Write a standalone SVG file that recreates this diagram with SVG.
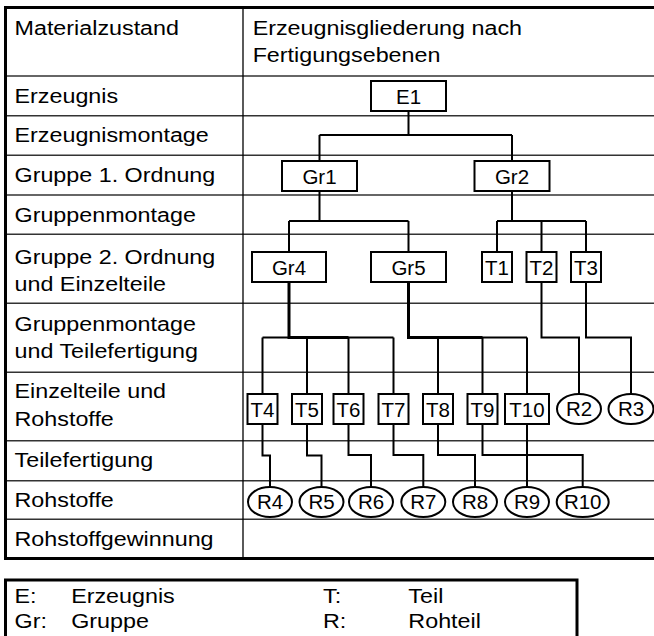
<svg xmlns="http://www.w3.org/2000/svg" width="654" height="636" viewBox="0 0 654 636">
<style>
.t{font-family:"Liberation Sans",Arial,sans-serif;font-size:21px;fill:#000}
.n{font-family:"Liberation Sans",Arial,sans-serif;font-size:20.5px;fill:#000;text-anchor:middle}
.box{fill:#fff;stroke:#000;stroke-width:2}
.row{stroke:#333;stroke-width:1.5;fill:none}
.c{fill:none;stroke:#000;stroke-width:2}
.ck{fill:none;stroke:#000;stroke-width:3}
</style>
<rect width="654" height="636" fill="#fff"/>
<g id="table">
<g class="row">
<line x1="5" y1="76" x2="654" y2="76"/>
<line x1="5" y1="115.7" x2="654" y2="115.7"/>
<line x1="5" y1="155.3" x2="654" y2="155.3"/>
<line x1="5" y1="195" x2="654" y2="195"/>
<line x1="5" y1="234.3" x2="654" y2="234.3"/>
<line x1="5" y1="303.3" x2="654" y2="303.3"/>
<line x1="5" y1="372.3" x2="654" y2="372.3"/>
<line x1="5" y1="440.7" x2="654" y2="440.7"/>
<line x1="5" y1="480.7" x2="654" y2="480.7"/>
<line x1="5" y1="519.3" x2="654" y2="519.3"/>
</g>
<line x1="243" y1="8" x2="243" y2="558" stroke="#000" stroke-width="1.3"/>
<path d="M654,7.5 H5.5 V558.5 H654" fill="none" stroke="#000" stroke-width="3"/>
<g transform="scale(1.11 1)">
<text class="t" x="13.1" y="35">Materialzustand</text>
<text class="t" x="227.6" y="35">Erzeugnisgliederung nach</text>
<text class="t" x="227.6" y="61.7">Fertigungsebenen</text>
<text class="t" x="13.1" y="103">Erzeugnis</text>
<text class="t" x="13.1" y="142.5">Erzeugnismontage</text>
<text class="t" x="13.1" y="182.3">Gruppe 1. Ordnung</text>
<text class="t" x="13.1" y="221.7">Gruppenmontage</text>
<text class="t" x="13.1" y="264">Gruppe 2. Ordnung</text>
<text class="t" x="13.1" y="291">und Einzelteile</text>
<text class="t" x="13.1" y="330.7">Gruppenmontage</text>
<text class="t" x="13.1" y="358.3">und Teilefertigung</text>
<text class="t" x="13.1" y="398.3">Einzelteile und</text>
<text class="t" x="13.1" y="426">Rohstoffe</text>
<text class="t" x="13.1" y="466.7">Teilefertigung</text>
<text class="t" x="13.1" y="507.3">Rohstoffe</text>
<text class="t" x="13.1" y="546">Rohstoffgewinnung</text>
</g>
</g>
<g id="connectors">
<path class="c" d="M408.5,111 V135 M319.5,135 H512 M319.5,135 V161 M512,135 V161"/>
<path class="c" d="M319.5,191 V221 M289,221 H408.5 M289,221 V252 M408.5,221 V252"/>
<path class="c" d="M512,191 V221 M497,221 H586 M497,221 V252 M541.5,221 V252 M586,221 V252"/>
<path class="ck" d="M289,282 V337.5 H348.5"/>
<path class="c" d="M262.5,337.5 H393.5 M262.5,337.5 V394 M307,337.5 V394 M348.5,337.5 V394 M393.5,337.5 V394"/>
<path class="ck" d="M408.5,282 V337.5 H482.5"/>
<path class="c" d="M408.5,337.5 H527 M438,337.5 V394 M482.5,337.5 V394 M527,337.5 V394"/>
<path class="c" d="M541.5,282 V337.5 H579 V394"/>
<path class="c" d="M586,282 V337.5 H631 V394"/>
<path class="c" d="M262.5,424 V455.5 H270 V487"/>
<path class="c" d="M307,424 V455.5 H321.5 V487"/>
<path class="c" d="M348.5,424 V455 H371 V487"/>
<path class="c" d="M393.5,424 V455 H423.3 V487"/>
<path class="c" d="M438,424 V455 H475 V487"/>
<path class="c" d="M482.5,424 V455 H582.7 V487"/>
<path class="c" d="M527,424 V487"/>
</g>
<g id="E1"><rect class="box" x="371" y="81" width="75" height="30"/><text class="n" x="408.5" y="103.5">E1</text></g>
<g id="Gr1"><rect class="box" x="282" y="161" width="75" height="30"/><text class="n" x="319.5" y="183.5">Gr1</text></g>
<g id="Gr2"><rect class="box" x="474.5" y="161" width="75" height="30"/><text class="n" x="512" y="183.5">Gr2</text></g>
<g id="Gr4"><rect class="box" x="252" y="252" width="74" height="30"/><text class="n" x="289" y="274.5">Gr4</text></g>
<g id="Gr5"><rect class="box" x="371" y="252" width="75" height="30"/><text class="n" x="408.5" y="274.5">Gr5</text></g>
<g id="T1"><rect class="box" x="482" y="252" width="30" height="30"/><text class="n" x="497" y="274.5">T1</text></g>
<g id="T2"><rect class="box" x="526.5" y="252" width="30" height="30"/><text class="n" x="541.5" y="274.5">T2</text></g>
<g id="T3"><rect class="box" x="571" y="252" width="30" height="30"/><text class="n" x="586" y="274.5">T3</text></g>
<g id="T4"><rect class="box" x="247.5" y="394" width="30" height="30"/><text class="n" x="262.5" y="416.5">T4</text></g>
<g id="T5"><rect class="box" x="292" y="394" width="30" height="30"/><text class="n" x="307" y="416.5">T5</text></g>
<g id="T6"><rect class="box" x="333.5" y="394" width="30" height="30"/><text class="n" x="348.5" y="416.5">T6</text></g>
<g id="T7"><rect class="box" x="378.5" y="394" width="30" height="30"/><text class="n" x="393.5" y="416.5">T7</text></g>
<g id="T8"><rect class="box" x="423" y="394" width="30" height="30"/><text class="n" x="438" y="416.5">T8</text></g>
<g id="T9"><rect class="box" x="467.5" y="394" width="30" height="30"/><text class="n" x="482.5" y="416.5">T9</text></g>
<g id="T10"><rect class="box" x="505" y="394" width="44" height="30"/><text class="n" x="527" y="416.5">T10</text></g>
<g id="R2"><ellipse class="box" cx="579" cy="409" rx="22" ry="15"/><text class="n" x="579" y="416.3">R2</text></g>
<g id="R3"><ellipse class="box" cx="631" cy="409" rx="22.5" ry="15"/><text class="n" x="631" y="416.3">R3</text></g>
<g id="R4"><ellipse class="box" cx="270" cy="502" rx="22" ry="15"/><text class="n" x="270" y="509.3">R4</text></g>
<g id="R5"><ellipse class="box" cx="321.5" cy="502" rx="22" ry="15"/><text class="n" x="321.5" y="509.3">R5</text></g>
<g id="R6"><ellipse class="box" cx="371" cy="502" rx="22" ry="15"/><text class="n" x="371" y="509.3">R6</text></g>
<g id="R7"><ellipse class="box" cx="423.3" cy="502" rx="22" ry="15"/><text class="n" x="423.3" y="509.3">R7</text></g>
<g id="R8"><ellipse class="box" cx="475" cy="502" rx="22" ry="15"/><text class="n" x="475" y="509.3">R8</text></g>
<g id="R9"><ellipse class="box" cx="527" cy="502" rx="22" ry="15"/><text class="n" x="527" y="509.3">R9</text></g>
<g id="R10"><ellipse class="box" cx="582.7" cy="502" rx="26" ry="15"/><text class="n" x="582.7" y="509.3">R10</text></g>
<g id="legend">
<rect x="5.5" y="580" width="571.5" height="80" fill="none" stroke="#000" stroke-width="3"/>
<g transform="scale(1.11 1)">
<text class="t" x="13.1" y="603.3">E:</text>
<text class="t" x="64.1" y="603.3">Erzeugnis</text>
<text class="t" x="13.1" y="628.3">Gr:</text>
<text class="t" x="64.1" y="628.3">Gruppe</text>
<text class="t" x="291" y="603.3">T:</text>
<text class="t" x="367.9" y="603.3">Teil</text>
<text class="t" x="291" y="628.3">R:</text>
<text class="t" x="367.9" y="628.3">Rohteil</text>
</g>
</g>
</svg>
